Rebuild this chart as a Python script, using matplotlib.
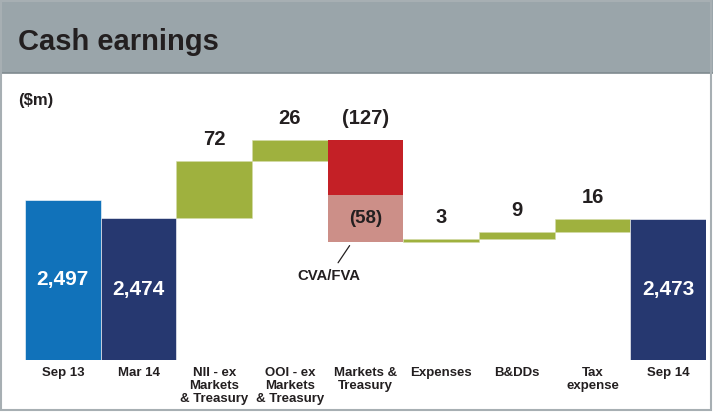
import matplotlib
matplotlib.use("Agg")
from matplotlib import pyplot as plt
from matplotlib.patches import Rectangle
import numpy as np

plt.rcParams["font.family"] = ["Liberation Sans", "DejaVu Sans"]

categories = ["Sep 13", "Mar 14", "NII - ex\nMarkets\n& Treasury", "OOI - ex\nMarkets\n& Treasury",
              "Markets &\nTreasury", "Expenses", "B&DDs", "Tax\nexpense", "Sep 14"]
totals = {0: 2497, 1: 2474, 8: 2473}
changes = {2: 72, 3: 26, 4: -127, 5: 3, 6: 9, 7: 16}
cva_fva = -58
change_labels = {2: "72", 3: "26", 4: "(127)", 5: "3", 6: "9", 7: "16"}
total_labels = {0: "2,497", 1: "2,474", 8: "2,473"}

c_sep13 = "#1172BA"
c_navy = "#263870"
c_green = "#9FB13E"
c_red = "#C42026"
c_pink = "#CC8F88"
c_text = "#231F20"

fig = plt.figure(figsize=(7.13, 4.12), dpi=100)
W, H = 713, 412

# header band and frame
fig.patches.append(Rectangle((0, 1 - 73 / H), 1, 73 / H, transform=fig.transFigure,
                             facecolor="#9AA5AA", edgecolor="none", zorder=0))
fig.lines.append(plt.Line2D([0, 1], [1 - 73 / H, 1 - 73 / H], transform=fig.transFigure,
                            color="#7F8A8F", lw=1.2))
fig.patches.append(Rectangle((1 / W, 2 / H), 1 - 3 / W, 1 - 3 / H, transform=fig.transFigure,
                             facecolor="none", edgecolor="#A7AFB3", lw=1.5, zorder=5))
fig.text(18 / W, 1 - 42 / H, "Cash earnings", fontsize=21, fontweight="bold",
         color=c_text, va="center", ha="left")
fig.text(18 / W, 1 - 100 / H, "($m)", fontsize=12, fontweight="bold",
         color=c_text, va="center", ha="left")

# axes: x 25..706 px, y 100..360 px
ax = fig.add_axes([25 / W, 1 - 360 / H, 681 / W, 260 / H])
ymin = 2297
ax.set_ylim(ymin, ymin + 260 / 0.8)
ax.set_xlim(-0.5, len(categories) - 0.5)

x = np.arange(len(categories))
running = totals[1]
for i in range(len(categories)):
    if i in totals:
        v = totals[i]
        color = c_sep13 if i == 0 else c_navy
        ax.bar(i, v - ymin, bottom=ymin, width=1, color=color, edgecolor="white", lw=0.4)
        ax.text(i, (v + ymin) / 2, total_labels[i], ha="center", va="center",
                color="white", fontsize=15, fontweight="bold")
        running = v
    else:
        d = changes[i]
        if i == 4:
            other = d - cva_fva
            ax.bar(i, other, bottom=running, width=1, color=c_red, lw=0)
            ax.bar(i, cva_fva, bottom=running + other, width=1, color=c_pink, lw=0)
            ax.text(i, running + other + cva_fva / 2, "(58)", ha="center", va="center",
                    color=c_text, fontsize=13.5, fontweight="bold")
            top = running
        else:
            ax.bar(i, d, bottom=running, width=1, color=c_green, edgecolor="#D4DCA8", lw=0.4)
            top = running + d
        ax.annotate(change_labels[i], (i, top), xytext=(0, 15.5), textcoords="offset points",
                    ha="center", va="center", color=c_text, fontsize=14.5, fontweight="bold")
        running += d

ax.annotate("CVA/FVA", xy=(3.79, 2440), xytext=(3.52, 2402), ha="center", va="center",
            fontsize=10.7, fontweight="bold", color=c_text,
            arrowprops=dict(arrowstyle="-", color=c_text, lw=0.9, shrinkA=3, shrinkB=0))

ax.set_xticks(x)
ax.set_xticklabels(categories, fontsize=9.5, fontweight="bold", color=c_text, linespacing=1.1)
ax.tick_params(axis="x", length=0, pad=5)
ax.set_yticks([])
for s in ax.spines.values():
    s.set_visible(False)
ax.patch.set_alpha(0)

fig.savefig("out.png", dpi=100)
